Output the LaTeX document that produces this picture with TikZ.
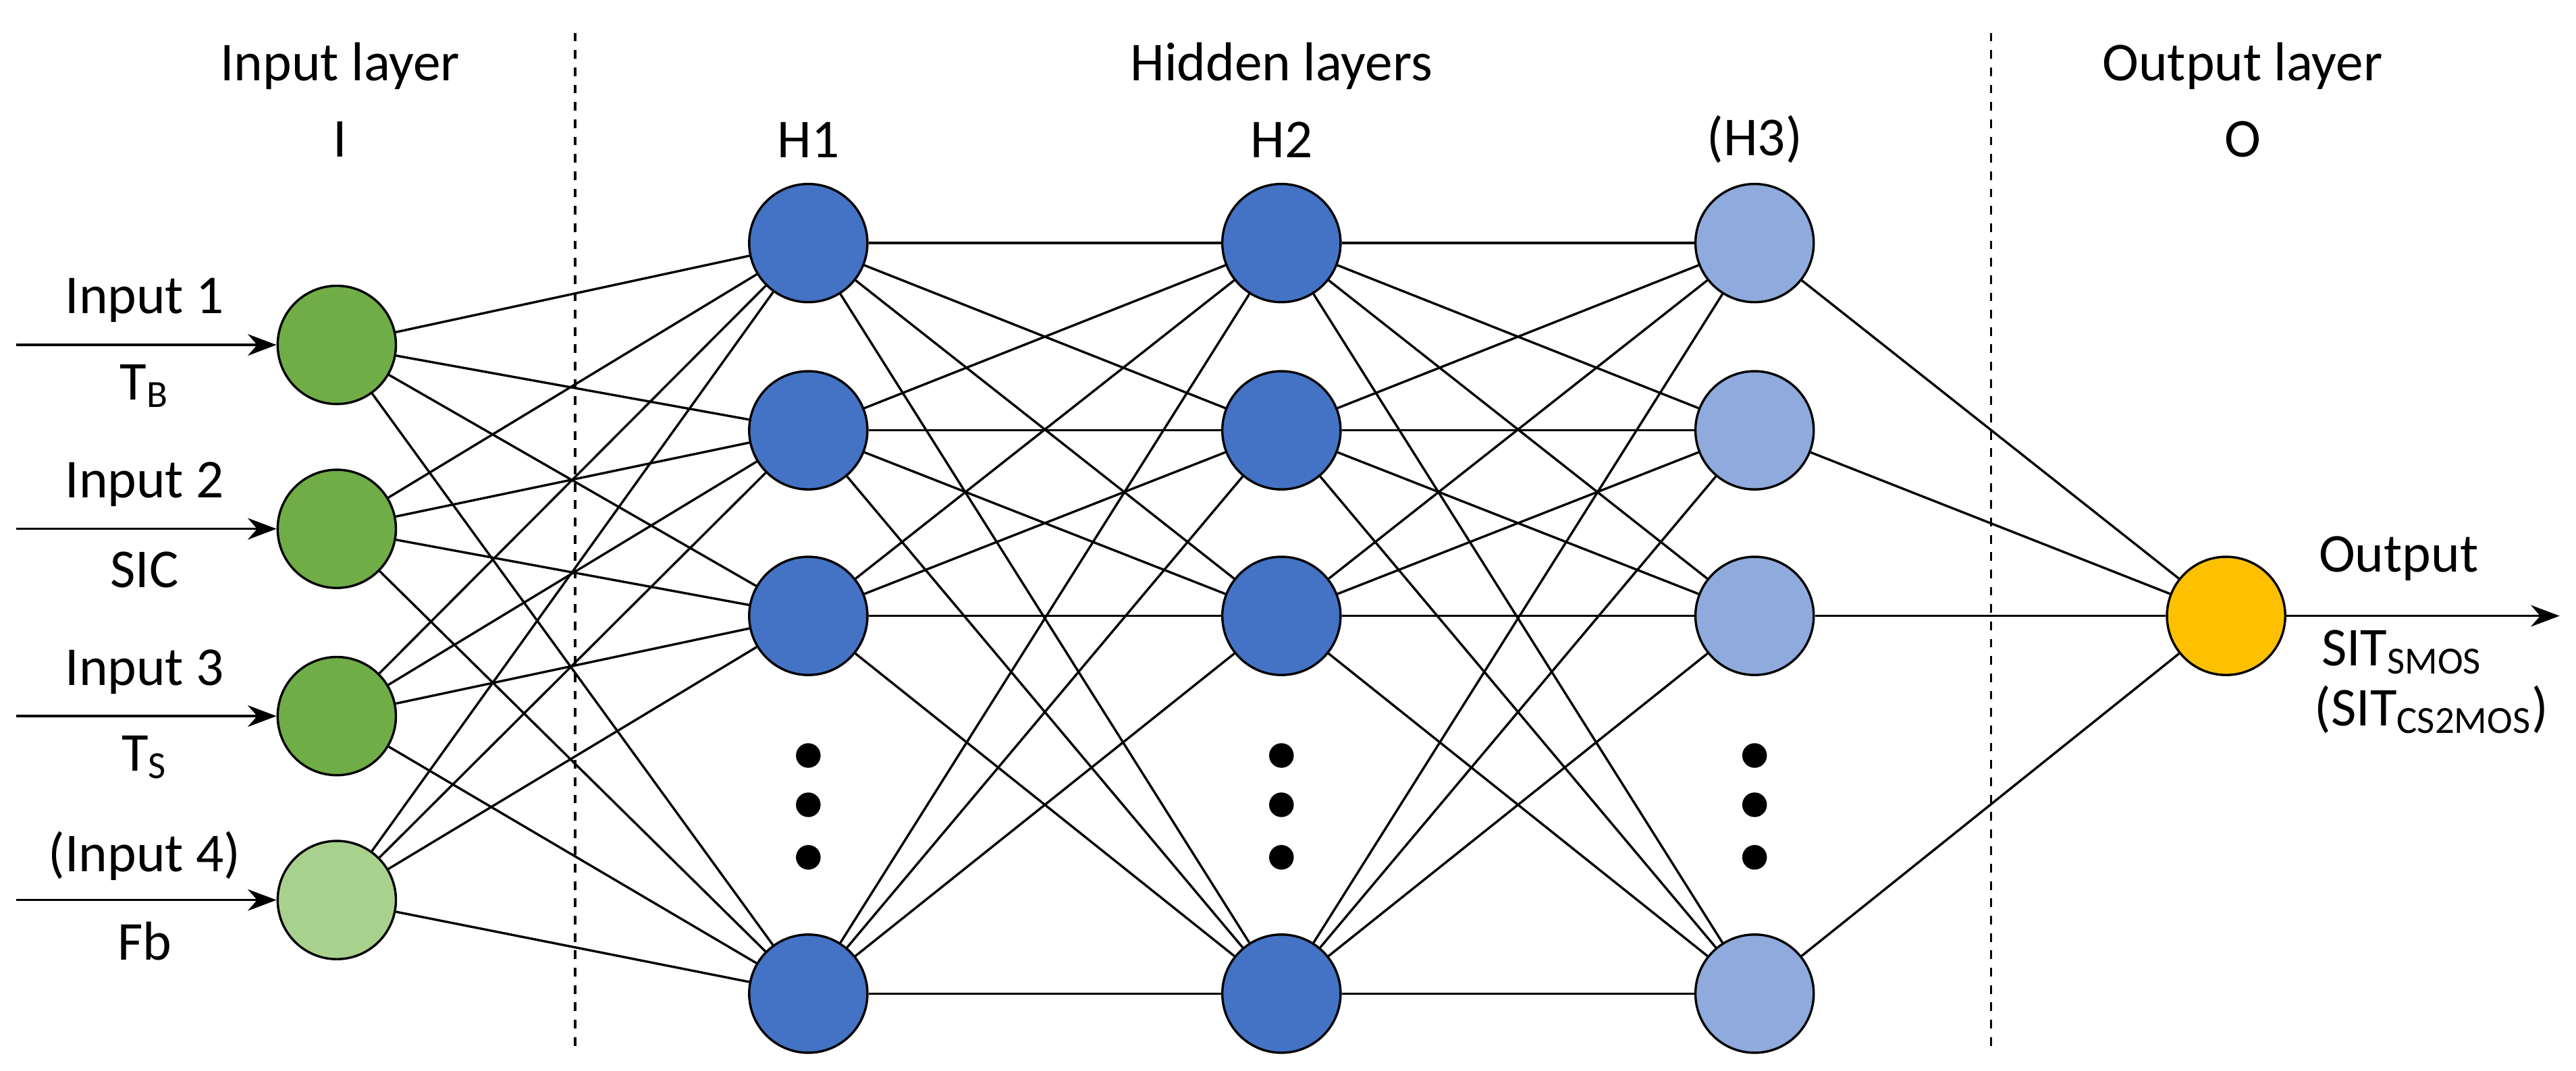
\documentclass[tikz,border=0pt]{standalone}
\usepackage{fontspec}
\setmainfont{Carlito}
\usetikzlibrary{positioning,arrows.meta}
\definecolor{ingreen}{HTML}{70AD47}
\definecolor{inlight}{HTML}{A9D18E}
\definecolor{hidblue}{HTML}{4472C4}
\definecolor{hidlight}{HTML}{8FAADC}
\definecolor{outgold}{HTML}{FFC000}
\begin{document}
\begin{tikzpicture}[x=0.02cm,y=-0.02cm,
    neuron/.style={circle,draw,thick,minimum size=1.44cm,inner sep=0pt},
    link/.style={thick},
    lbl/.style={font=\fontsize{19}{22}\selectfont},
    dot/.style={circle,fill,inner sep=0pt,minimum size=0.3cm}]
  \useasboundingbox (0,0) rectangle (1568,652);
  % \draw[help lines] (0,0) grid (1568,652);

  \node[lbl] (tI) at (207,40) {Input layer};
  \node[lbl] (tIi) at (207,85) {I};
  \node[lbl] (tH) at (780,40) {Hidden layers};
  \node[lbl] (tH1) at (492,85) {H1};
  \node[lbl] (tH2) at (780,85) {H2};
  \node[lbl] (tH3) at (1068,85) {(H3)};
  \node[lbl] (tO) at (1365,40) {Output layer};
  \node[lbl] (tOo) at (1365,85) {O};

  \coordinate (d1a) at (350,20); \coordinate (d1b) at (350,640);
  \coordinate (d2a) at (1212,20); \coordinate (d2b) at (1212,640);
  \draw[thick,dashed] (d1a) -- (d1b);
  \draw[thick,dashed] (d2a) -- (d2b);

  \node[neuron,fill=ingreen] (i1) at (205,210) {};
  \node[neuron,fill=ingreen] (i2) at (205,322) {};
  \node[neuron,fill=ingreen] (i3) at (205,436) {};
  \node[neuron,fill=inlight] (i4) at (205,548) {};

  \foreach \n/\x/\c in {a/492/hidblue,b/780/hidblue,c/1068/hidlight}{
    \node[neuron,fill=\c] (\n1) at (\x,148) {};
    \node[neuron,fill=\c] (\n2) at (\x,262) {};
    \node[neuron,fill=\c] (\n3) at (\x,375) {};
    \node[neuron,fill=\c] (\n4) at (\x,605) {};
    \node[dot] (\n d1) at (\x,460) {};
    \node[dot] (\n d2) at (\x,490) {};
    \node[dot] (\n d3) at (\x,522) {};
  }
  \node[neuron,fill=outgold] (o) at (1355,375) {};

  \foreach \i in {1,...,4}
    \foreach \j in {1,...,4}{
      \draw[link] (i\i) -- (a\j);
      \draw[link] (a\i) -- (b\j);
      \draw[link] (b\i) -- (c\j);
    }
  \foreach \j in {1,...,4}
    \draw[link] (c\j) -- (o);

  % inputs
  \foreach \k/\ya/\tx/\bx in {1/210/Input 1/T\textsubscript{B},2/322/Input 2/SIC,
                              3/436/Input 3/T\textsubscript{S},4/548/(Input 4)/Fb}{
    \coordinate (s\k) at (10,\ya);
    \draw[thick,-{Stealth[length=0.35cm]}] (s\k) -- (i\k);
    \node[lbl] (up\k) at (88,\ya-27) {\tx};
    \node[lbl] (dn\k) at (88,\ya+25) {\bx};
  }

  \coordinate (oend) at (1558,375);
  \draw[thick,-{Stealth[length=0.35cm]}] (o) -- (oend);
  \node[lbl] (ot) at (1460,340) {Output};
  \node[lbl] (os1) at (1462,397) {SIT\textsubscript{SMOS}};
  \node[lbl] (os2) at (1480,432) {(SIT\textsubscript{CS2MOS})};
\end{tikzpicture}
\end{document}
